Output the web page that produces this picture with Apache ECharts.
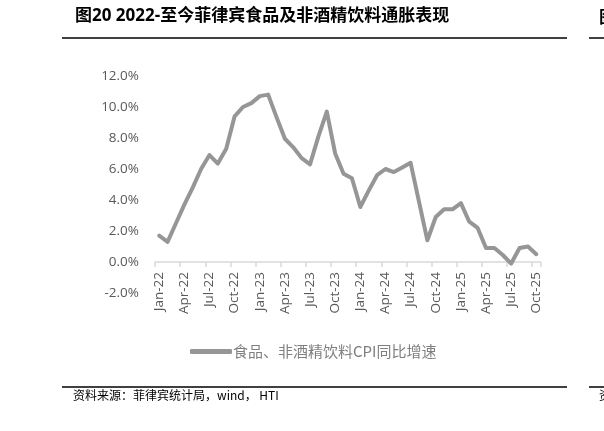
<!DOCTYPE html>
<html>
<head>
<meta charset="utf-8">
<script src="https://cdn.jsdelivr.net/npm/echarts@6/dist/echarts.min.js"></script>
<style>
html,body{margin:0;padding:0;background:#fff;}
#c{width:604px;height:431px;}
</style>
</head>
<body>
<div id="c"></div>
<script>
const categories = [
  'Jan-22','Feb-22','Mar-22','Apr-22','May-22','Jun-22','Jul-22','Aug-22','Sep-22','Oct-22','Nov-22','Dec-22',
  'Jan-23','Feb-23','Mar-23','Apr-23','May-23','Jun-23','Jul-23','Aug-23','Sep-23','Oct-23','Nov-23','Dec-23',
  'Jan-24','Feb-24','Mar-24','Apr-24','May-24','Jun-24','Jul-24','Aug-24','Sep-24','Oct-24','Nov-24','Dec-24',
  'Jan-25','Feb-25','Mar-25','Apr-25','May-25','Jun-25','Jul-25','Aug-25','Sep-25','Oct-25'
];
const cpiFoodYoY = [
  1.7, 1.3, 2.5, 3.7, 4.8, 6.0, 6.9, 6.35, 7.3, 9.4, 10.0, 10.25,
  10.7, 10.8, 9.35, 7.95, 7.4, 6.7, 6.3, 8.1, 9.7, 7.0, 5.7, 5.4,
  3.55, 4.6, 5.6, 6.0, 5.8, 6.1, 6.4, 3.9, 1.4, 2.9, 3.4, 3.4,
  3.8, 2.6, 2.2, 0.9, 0.9, 0.45, -0.1, 0.9, 1.0, 0.5
];
const seriesName = '食品、非酒精饮料CPI同比增速';
const titleText = '图20 2022-至今菲律宾食品及非酒精饮料通胀表现';
const sourceText = '资料来源：菲律宾统计局，wind， HTI';

const FONT = "'Open Sans','Noto Sans CJK SC',sans-serif";
const chart = echarts.init(document.getElementById('c'), null, {renderer: 'canvas'});
chart.setOption({
  backgroundColor: '#ffffff',
  animation: false,
  textStyle: {fontFamily: FONT},
  grid: {left: 155, right: 63.5, top: 76, bottom: 138, containLabel: false},
  legend: {
    left: 185, top: 339,
    icon: 'roundRect', itemWidth: 42, itemHeight: 5, itemGap: 10,
    textStyle: {color: '#7f7f7f', fontSize: 15, fontFamily: "'Noto Sans CJK SC','Open Sans',sans-serif", padding: [0,0,0,-4]},
    data: [seriesName]
  },
  xAxis: {
    type: 'category',
    data: categories,
    boundaryGap: true,
    axisLine: {onZero: true, lineStyle: {color: '#d9d9d9', width: 1.5}},
    axisTick: {show: true, interval: 2, length: 5, lineStyle: {color: '#d9d9d9', width: 1.5}},
    axisLabel: {interval: 2, rotate: 90, margin: -21, color: '#595959', fontSize: 13.5, fontFamily: FONT}
  },
  yAxis: {
    type: 'value',
    min: -2, max: 12, interval: 2,
    axisLine: {show: false},
    axisTick: {show: false},
    splitLine: {show: false},
    axisLabel: {margin: 16, color: '#595959', fontSize: 13.5, fontFamily: FONT,
      formatter: v => v.toFixed(1) + '%'}
  },
  series: [{
    name: seriesName,
    type: 'line',
    data: cpiFoodYoY,
    showSymbol: false,
    symbol: 'none',
    lineStyle: {color: '#969696', width: 4, join: 'round', cap: 'round'},
    itemStyle: {color: '#969696'}
  }],
  graphic: [
    {type: 'text', left: 75, top: 8, style: {text: titleText, fill: '#000', font: "bold 17px 'Open Sans','Noto Sans CJK SC',sans-serif"}},
    {type: 'line', shape: {x1: 62, y1: 38, x2: 567, y2: 38}, style: {stroke: '#000', lineWidth: 1.5}},
    {type: 'line', shape: {x1: 589, y1: 38, x2: 604, y2: 38}, style: {stroke: '#000', lineWidth: 1.5}},
    {type: 'text', left: 599, top: 8, style: {text: '图', fill: '#000', font: "bold 17px 'Noto Sans CJK SC',sans-serif"}},
    {type: 'line', shape: {x1: 62, y1: 387, x2: 567, y2: 387}, style: {stroke: '#000', lineWidth: 1.5}},
    {type: 'line', shape: {x1: 589, y1: 387, x2: 604, y2: 387}, style: {stroke: '#000', lineWidth: 1.5}},
    {type: 'text', left: 73, top: 389, style: {text: sourceText, fill: '#000', font: "12px 'Noto Sans CJK SC','Open Sans',sans-serif"}},
    {type: 'text', left: 599, top: 389, style: {text: '资', fill: '#000', font: "12px 'Noto Sans CJK SC',sans-serif"}}
  ]
});
</script>
</body>
</html>
